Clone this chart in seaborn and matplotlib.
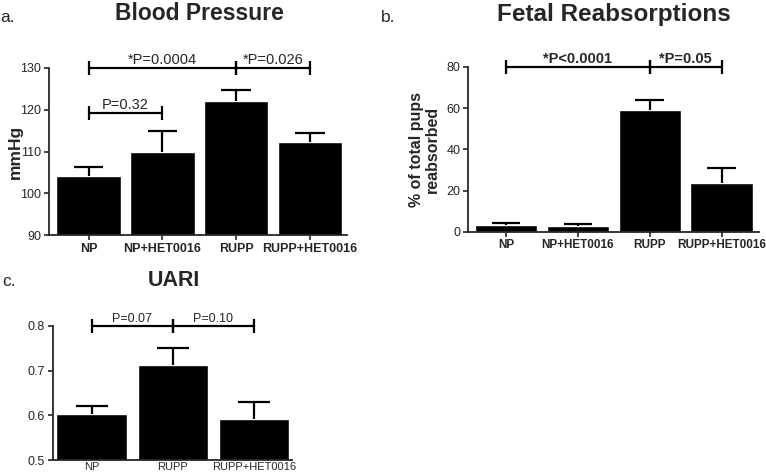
import matplotlib
matplotlib.use('Agg')
import matplotlib.pyplot as plt
import seaborn as sns
import numpy as np

# panel a - blood pressure
bp_groups = ['NP', 'NP+HET0016', 'RUPP', 'RUPP+HET0016']
bp_mean = [104.2, 109.8, 122.2, 112.2]
bp_err = [2.1, 5.2, 2.4, 2.2]

# panel b - fetal reabsorptions
fr_groups = ['NP', 'NP+HET0016', 'RUPP', 'RUPP+HET0016']
fr_mean = [3.4, 2.7, 59.2, 23.6]
fr_err = [1.1, 1.2, 4.8, 7.3]

# panel c - UARI
ua_groups = ['NP', 'RUPP', 'RUPP+HET0016']
ua_mean = [0.603, 0.713, 0.592]
ua_err = [0.018, 0.037, 0.038]

sns.set_style('ticks')
plt.rcParams['font.family'] = ['Liberation Sans', 'DejaVu Sans']


def bars(ax, groups, mean, err):
    sns.barplot(x=groups, y=mean, color='black', saturation=1, width=0.87,
                errorbar=None, ax=ax)
    x = np.arange(len(groups))
    top = np.array(mean) + np.array(err)
    ax.vlines(x, mean, top, color='black', lw=1.6)
    ax.hlines(top, x - 0.2, x + 0.2, color='black', lw=1.6)
    for s in ['left', 'bottom']:
        ax.spines[s].set_linewidth(1.3)
    sns.despine(ax=ax)
    ax.tick_params(direction='out', length=3.5, width=1.2, pad=2)


def bracket(ax, x1, x2, y, label, size=10.5, weight='normal'):
    ax.plot([x1, x2], [y, y], color='black', lw=1.6, clip_on=False)
    ax.plot([x1, x2], [y, y], ls='none', marker='|', ms=10, mew=1.6,
            color='black', clip_on=False)
    ax.annotate(label, ((x1 + x2) / 2, y), xytext=(0, 0.5), textcoords='offset points',
                ha='center', va='bottom', fontsize=size, fontweight=weight)


fig = plt.figure(figsize=(7.66, 4.75), dpi=100)

# a
ax1 = fig.add_axes([0.064, 0.505, 0.389, 0.352])
bars(ax1, bp_groups, bp_mean, bp_err)
ax1.set_ylim(90, 130)
ax1.set_yticks([90, 100, 110, 120, 130])
ax1.set_xlim(-0.535, 3.5)
ax1.set_ylabel('mmHg', fontsize=12.5, fontweight='bold', va='center')
ax1.yaxis.set_label_coords(-0.114, 0.5)
ax1.tick_params(axis='y', labelsize=9)
ax1.tick_params(axis='x', labelsize=9)
for t in ax1.get_xticklabels():
    t.set_fontweight('bold')
bracket(ax1, 0, 2, 130, '*P=0.0004')
bracket(ax1, 2, 3, 130, '*P=0.026')
bracket(ax1, 0, 1, 119.2, 'P=0.32')
fig.text(199 / 766, 1 - 14 / 475, 'Blood Pressure', ha='center', va='center',
         fontsize=16.5, fontweight='bold')
fig.text(0.0, 1 - 17 / 475, 'a.', ha='left', va='center', fontsize=12.5)

# b
ax2 = fig.add_axes([0.611, 0.512, 0.38, 0.347])
bars(ax2, fr_groups, fr_mean, fr_err)
ax2.set_ylim(0, 80)
ax2.set_yticks([0, 20, 40, 60, 80])
ax2.set_xlim(-0.53, 3.52)
ax2.set_ylabel('% of total pups\nreabsorbed', fontsize=11.5, fontweight='bold',
               labelpad=5, linespacing=1.0)
ax2.tick_params(axis='y', labelsize=9)
ax2.tick_params(axis='x', labelsize=8.5)
for t in ax2.get_xticklabels():
    t.set_fontweight('bold')
bracket(ax2, 0, 2, 80, '*P<0.0001', weight='bold')
bracket(ax2, 2, 3, 80, '*P=0.05', weight='bold')
fig.text(614 / 766, 1 - 15 / 475, 'Fetal Reabsorptions', ha='center', va='center',
         fontsize=17.5, fontweight='bold')
fig.text(381 / 766, 1 - 17 / 475, 'b.', ha='left', va='center', fontsize=12.5)

# c
ax3 = fig.add_axes([0.069, 0.031, 0.312, 0.283])
bars(ax3, ua_groups, ua_mean, ua_err)
ax3.set_ylim(0.5, 0.8)
ax3.set_yticks([0.5, 0.6, 0.7, 0.8])
ax3.set_xlim(-0.48, 2.47)
ax3.tick_params(axis='y', labelsize=9)
ax3.tick_params(axis='x', labelsize=8, length=0, pad=1)
bracket(ax3, 0, 1, 0.8, 'P=0.07', size=9)
bracket(ax3, 1, 2, 0.8, 'P=0.10', size=9)
fig.text(174 / 766, 1 - 280 / 475, 'UARI', ha='center', va='center',
         fontsize=15.5, fontweight='bold')
fig.text(0.003, 1 - 282 / 475, 'c.', ha='left', va='center', fontsize=12.5)

fig.savefig('out.png', dpi=100)
